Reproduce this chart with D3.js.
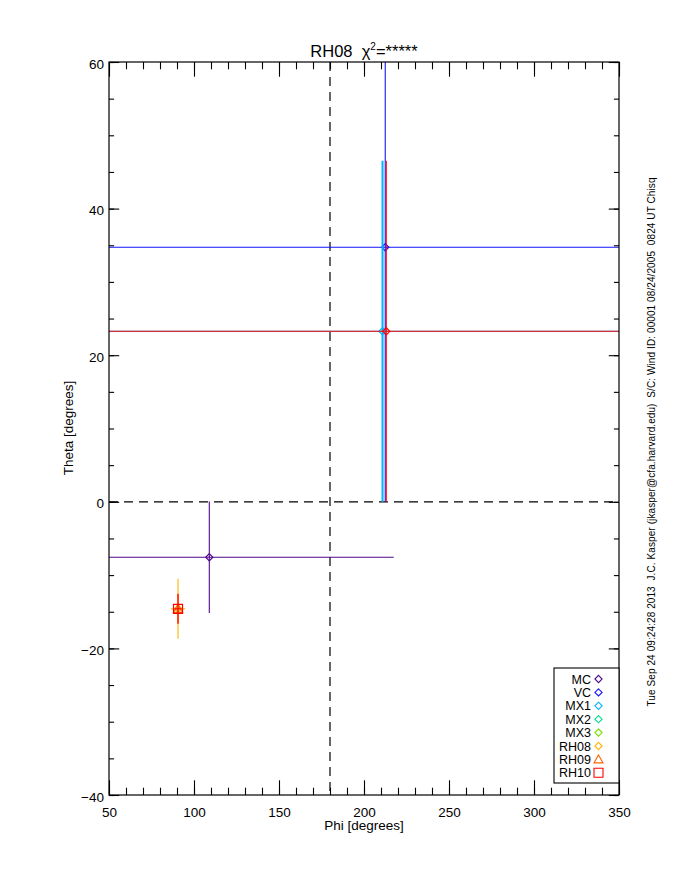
<!DOCTYPE html>
<html>
<head>
<meta charset="utf-8">
<script src="https://cdn.jsdelivr.net/npm/d3@7"></script>
<style>
  html, body { margin: 0; padding: 0; background: #fff; }
  svg { display: block; }
  text { font-family: "Liberation Sans", Arial, sans-serif; fill: #000; }
</style>
</head>
<body>
<svg id="chart" width="680" height="880"></svg>
<script>
// ---------- data ----------
const phiMajorTicks = [50, 100, 150, 200, 250, 300, 350];
const thetaMajorTicks = [-40, -20, 0, 20, 40, 60];
const seriesNames   = ["MC", "VC", "MX1", "MX2", "MX3", "RH08", "RH09", "RH10"];
const seriesColors  = ["#500a8c", "#1414ff", "#00b4ff", "#00e08c", "#78e000", "#ffb400", "#ff6400", "#ff0000"];
const seriesSymbols = ["diamond", "diamond", "diamond", "diamond", "diamond", "diamond", "triangle", "square"];
const seriesPhi      = [109.0, 212.5, 210.9, null, null, 90.6, 90.6, 90.6];
const seriesTheta    = [-7.57, 34.72, 23.26, null, null, -14.6, -14.6, -14.6];
const seriesPhiErr   = [108.5, 300, 300, null, null, 4.2, 2.0, 2.0];
const seriesThetaErr = [7.6, 34.72, 23.27, null, null, 4.1, 2.0, 2.05];
// additional marked solution (red, unlabeled)
const bestPhi = [213.1];
const bestTheta = [23.26];
const bestPhiErr = [300];
const bestThetaErr = [23.27];
const bestColor = "#ff0000";
const titleText = "RH08";
const sideText = "Tue Sep 24 09:24:28 2013  J.C. Kasper (jkasper@cfa.harvard.edu)  S/C: Wind ID: 00001 08/24/2005  0824 UT Chisq";

// ---------- layout ----------
const L = 109, R = 619, T = 62, B = 795;
const svg = d3.select("#chart");
const x = d3.scaleLinear().domain([50, 350]).range([L, R]);
const y = d3.scaleLinear().domain([-40, 60]).range([B, T]);
const phiMinor = d3.range(50, 351, 10);
const thetaMinor = d3.range(-40, 61, 5);
const xMajLen = 14.7, xMinLen = 7.3, yMajLen = 10.2, yMinLen = 5.1;
const LW = 1.1;

svg.append("defs").append("clipPath").attr("id", "clip")
  .append("rect").attr("x", L).attr("y", T).attr("width", R - L).attr("height", B - T);

// dashed reference lines
const plot = svg.append("g").attr("clip-path", "url(#clip)");
plot.append("line").attr("x1", L).attr("x2", R).attr("y1", y(0)).attr("y2", y(0))
  .attr("stroke", "#000").attr("stroke-width", 1.2).attr("stroke-dasharray", "9,6");
plot.append("line").attr("x1", x(180)).attr("x2", x(180)).attr("y1", T).attr("y2", B)
  .attr("stroke", "#000").attr("stroke-width", 1.2).attr("stroke-dasharray", "9,6");

function symbolPath(kind) {
  if (kind === "diamond") return "M0,-3.6L3.6,0L0,3.6L-3.6,0Z";
  if (kind === "triangle") return "M0,-4.5L4.5,3.5L-4.5,3.5Z";
  return "M-4.5,-4.5L4.5,-4.5L4.5,4.5L-4.5,4.5Z";
}

function drawPoint(px, pt, ex, et, color, kind, vw) {
  const cx = x(px), cy = y(pt);
  plot.append("line").attr("x1", x(px - ex)).attr("x2", x(px + ex)).attr("y1", cy).attr("y2", cy)
    .attr("stroke", color).attr("stroke-width", LW);
  plot.append("line").attr("x1", cx).attr("x2", cx).attr("y1", y(pt - et)).attr("y2", y(pt + et))
    .attr("stroke", color).attr("stroke-width", vw || LW);
  plot.append("path").attr("d", symbolPath(kind)).attr("transform", `translate(${cx},${cy})`)
    .attr("fill", "none").attr("stroke", color).attr("stroke-width", 1.2);
}

seriesNames.forEach((n, i) => {
  if (seriesPhi[i] == null) return;
  drawPoint(seriesPhi[i], seriesTheta[i], seriesPhiErr[i], seriesThetaErr[i], seriesColors[i], seriesSymbols[i],
            n === "MX1" ? 2 : LW);
});
bestPhi.forEach((p, i) => drawPoint(p, bestTheta[i], bestPhiErr[i], bestThetaErr[i], bestColor, "diamond"));

// ---------- axes ----------
function styleAxis(g) {
  g.select(".domain").remove();
  g.selectAll("line").attr("stroke", "#000").attr("stroke-width", 1.1);
  g.selectAll("text").style("font-size", "13.5px").style("font-family", '"Liberation Sans", Arial, sans-serif');
}
svg.append("g").attr("transform", `translate(0,${B})`)
  .call(d3.axisBottom(x).tickValues(phiMajorTicks).tickSize(-xMajLen).tickPadding(12).tickFormat(d3.format("d")))
  .call(styleAxis);
svg.append("g").attr("transform", `translate(0,${B})`)
  .call(d3.axisBottom(x).tickValues(phiMinor).tickSize(-xMinLen).tickFormat("")).call(styleAxis);
svg.append("g").attr("transform", `translate(0,${T})`)
  .call(d3.axisTop(x).tickValues(phiMajorTicks).tickSize(-xMajLen).tickFormat("")).call(styleAxis);
svg.append("g").attr("transform", `translate(0,${T})`)
  .call(d3.axisTop(x).tickValues(phiMinor).tickSize(-xMinLen).tickFormat("")).call(styleAxis);
const leftAx = svg.append("g").attr("transform", `translate(${L},0)`)
  .call(d3.axisLeft(y).tickValues(thetaMajorTicks).tickSize(-yMajLen).tickPadding(5).tickFormat(d3.format("d")))
  .call(styleAxis);
leftAx.selectAll("text").attr("dy", "0.45em");
svg.append("g").attr("transform", `translate(${L},0)`)
  .call(d3.axisLeft(y).tickValues(thetaMinor).tickSize(-yMinLen).tickFormat("")).call(styleAxis);
svg.append("g").attr("transform", `translate(${R},0)`)
  .call(d3.axisRight(y).tickValues(thetaMajorTicks).tickSize(-yMajLen).tickFormat("")).call(styleAxis);
svg.append("g").attr("transform", `translate(${R},0)`)
  .call(d3.axisRight(y).tickValues(thetaMinor).tickSize(-yMinLen).tickFormat("")).call(styleAxis);

svg.append("rect").attr("x", L).attr("y", T).attr("width", R - L).attr("height", B - T)
  .attr("fill", "none").attr("stroke", "#000").attr("stroke-width", 1.2);

// ---------- titles ----------
const title = svg.append("text").attr("x", 364).attr("y", 57).attr("text-anchor", "middle")
  .style("font-size", "16.5px");
title.append("tspan").text(titleText + "\u00a0\u00a0");
title.append("tspan").text("\u03c7");
title.append("tspan").attr("dy", -7).style("font-size", "10px").text("2");
title.append("tspan").attr("dy", 7).text("=*****");

svg.append("text").attr("x", 364).attr("y", 830).attr("text-anchor", "middle")
  .style("font-size", "13.5px").text("Phi [degrees]");
svg.append("text").attr("transform", "translate(73,428) rotate(-90)").attr("text-anchor", "middle")
  .style("font-size", "13.5px").text("Theta [degrees]");
svg.append("text").attr("transform", "translate(655,442) rotate(-90)").attr("text-anchor", "middle")
  .style("font-size", "10px").style("white-space", "pre").attr("xml:space", "preserve")
  .attr("textLength", 529).attr("lengthAdjust", "spacing").text(sideText);

// ---------- legend ----------
const lg = svg.append("g");
lg.append("rect").attr("x", 554).attr("y", 668).attr("width", R - 554).attr("height", 115)
  .attr("fill", "#fff").attr("stroke", "#000").attr("stroke-width", 1.1);
seriesNames.forEach((n, i) => {
  const yy = 679 + i * 13.4;
  lg.append("text").attr("x", 591).attr("y", yy + 4.5).attr("text-anchor", "end")
    .style("font-size", "12.5px").text(n);
  lg.append("path").attr("d", symbolPath(seriesSymbols[i])).attr("transform", `translate(598.5,${yy})`)
    .attr("fill", "none").attr("stroke", seriesColors[i]).attr("stroke-width", 1.1);
});
</script>
</body>
</html>
